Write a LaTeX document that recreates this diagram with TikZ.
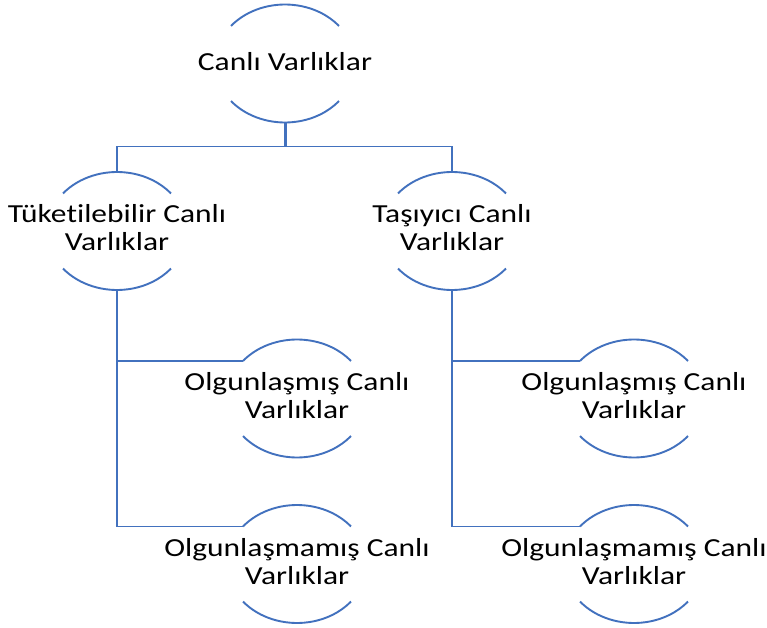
\documentclass[tikz,border=0pt]{standalone}
\usepackage{fontspec}
\setmainfont{Carlito}[FakeStretch=1.21, Ligatures=NoCommon]
\usetikzlibrary{calc}
\definecolor{arcblue}{RGB}{66,113,190}
\tikzset{
  arcline/.style={draw=arcblue, line width=1.9pt},
  conn/.style={draw=arcblue, line width=1.9pt},
  lbl/.style={align=center, inner sep=0pt, text=black, font=\fontsize{26}{28}\selectfont}
}
\newcommand\mynode[5]{%
  \coordinate (#1-c) at (#2,-#3);
  \coordinate (#1-top) at ($(#1-c)+(0,59)$);
  \coordinate (#1-bot) at ($(#1-c)+(0,-59)$);
  \coordinate (#1-tl) at ($(#1-c)+(140.5:70pt and 59pt)$);
  \coordinate (#1-bl) at ($(#1-c)+(219.5:70pt and 59pt)$);
  \draw[arcline] (#1-tl) arc[start angle=140.5, end angle=39.5, x radius=70pt, y radius=59pt];
  \draw[arcline] (#1-bl) arc[start angle=219.5, end angle=320.5, x radius=70pt, y radius=59pt];
  \node[lbl] (#1) at ($(#1-c)+(0,#5)$) {#4};
}
\begin{document}
\begin{tikzpicture}[x=1pt,y=1pt]
\fill[white] (0,-628) rectangle (767,0);
\useasboundingbox (0,-628) rectangle (767,0);
\mynode{root}{285}{63.5}{Canlı Varlıklar}{1.5}
\mynode{la}{117}{231}{Tüketilebilir Canlı\\Varlıklar}{3}
\mynode{ra}{452}{231}{Taşıyıcı Canlı\\Varlıklar}{3}
\mynode{lc1}{297}{398.5}{Olgunlaşmış Canlı\\Varlıklar}{2.5}
\mynode{lc2}{297}{564}{Olgunlaşmamış Canlı\\Varlıklar}{2.5}
\mynode{rc1}{634}{398.5}{Olgunlaşmış Canlı\\Varlıklar}{2.5}
\mynode{rc2}{634}{564}{Olgunlaşmamış Canlı\\Varlıklar}{2.5}
\coordinate (j) at ($(root-bot)+(0,-24)$);
\draw[conn, line width=3pt] (root-bot) -- (j);
\draw[conn] (la-top) |- (j) -| (ra-top);
\draw[conn] (la-bot) |- (lc1-tl);
\draw[conn] (la-bot) |- (lc2-tl);
\draw[conn] (ra-bot) |- (rc1-tl);
\draw[conn] (ra-bot) |- (rc2-tl);
\end{tikzpicture}
\end{document}
